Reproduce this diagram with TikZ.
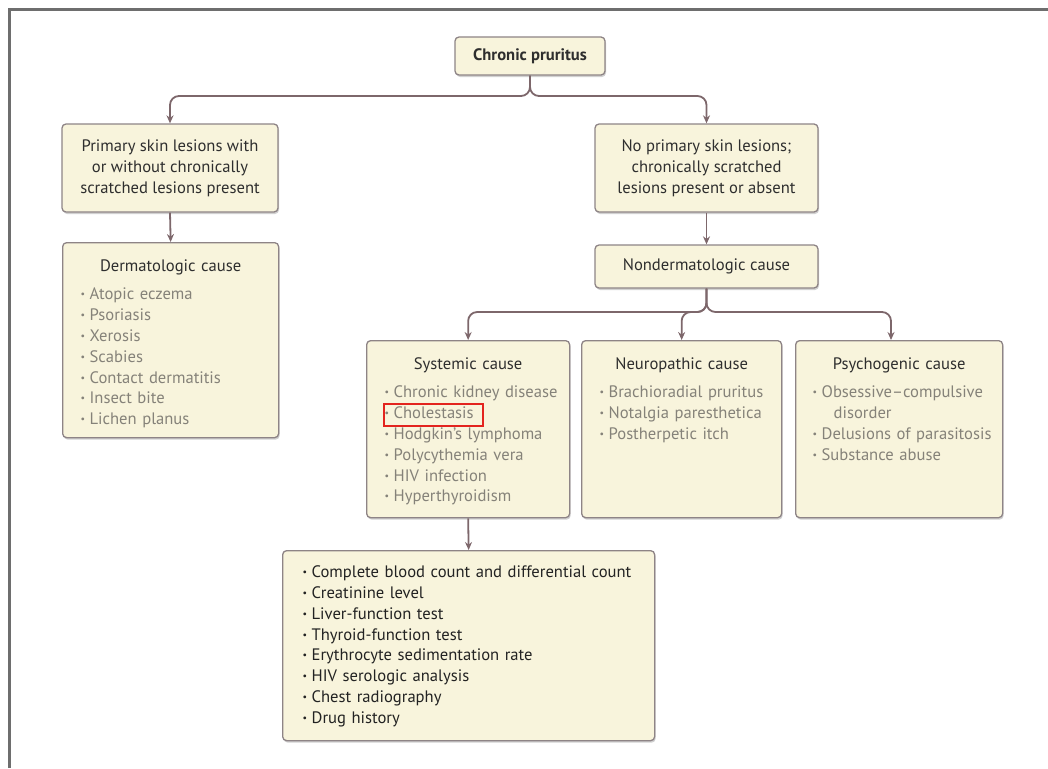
\documentclass[tikz,border=0pt]{standalone}
\usepackage{fontspec}
\usepackage{graphicx}
\setmainfont{PT Sans}
\usetikzlibrary{arrows.meta,shadows}

\definecolor{boxfill}{HTML}{F8F4DC}
\definecolor{boxline}{HTML}{8E8486}
\definecolor{connline}{HTML}{7D676B}
\definecolor{headtext}{HTML}{2E2E2E}
\definecolor{listtext}{HTML}{858279}
\definecolor{darktext}{HTML}{222222}
\definecolor{hilite}{HTML}{E3241E}
\definecolor{framegray}{HTML}{6E6E6E}

\newcommand\boxfont{\fontsize{16.6}{20.8}\selectfont}
\newcommand\bul{\makebox[9pt][l]{\raisebox{2pt}{\scalebox{0.6}{\textbullet}}}}
\newcommand\litem[1]{\mbox{\bul#1}\par}
\newcommand\ltitle[1]{{\centering\color{headtext}#1\par}\vspace{8pt}}

\tikzset{
  box/.style={draw=boxline, line width=1.3pt, fill=boxfill, rounded corners=4pt,
    drop shadow={shadow xshift=1pt, shadow yshift=-2pt, opacity=0.3, fill=black!60},
    font=\boxfont, text=headtext},
  listbox/.style n args={3}{box, anchor=north west, inner xsep=18pt, inner ysep=0pt,
    text width=#1, text height=#2, text depth=#3},
  conn/.style={draw=connline, line width=1.8pt, rounded corners=9pt,
    -{Stealth[length=8pt,width=7pt]}},
}

\begin{document}
\begin{tikzpicture}[x=1pt,y=-1pt]
      \useasboundingbox (0,0) rectangle (1048,768);
      \draw[framegray, line width=2.5pt] (9.5,768) -- (9.5,9.5) -- (1048,9.5);

      \node[box, font=\boxfont\bfseries, minimum width=150pt, minimum height=38pt] (chronic) at (530,56) {Chronic pruritus};

      \node[box, align=center, minimum width=216pt, minimum height=88pt] (primary) at (170,168)
        {Primary skin lesions with\\or without chronically\\scratched lesions present};
      \node[box, align=center, minimum width=223pt, minimum height=88pt] (noprim) at (706.5,168)
        {No primary skin lesions;\\chronically scratched\\lesions present or absent};

      \node[listbox={180pt}{28.5pt}{166.5pt}] (derm) at (62,242) {%
        \ltitle{Dermatologic cause}\color{listtext}%
        \litem{Atopic eczema}\litem{Psoriasis}\litem{Xerosis}\litem{Scabies}%
        \litem{Contact dermatitis}\litem{Insect bite}\litem{Lichen planus}};

      \node[box, minimum width=223pt, minimum height=43pt] (nonderm) at (706.5,266.5) {Nondermatologic cause};

      \node[listbox={167pt}{28.5pt}{148.5pt}] (sys) at (366,340) {%
        \ltitle{Systemic cause}\color{listtext}%
        \litem{Chronic kidney disease}\litem{Cholestasis}\litem{Hodgkin’s lymphoma}%
        \litem{Polycythemia vera}\litem{HIV infection}\litem{Hyperthyroidism}};
      \node[listbox={164pt}{28.5pt}{148.5pt}] (neuro) at (581,340) {%
        \ltitle{Neuropathic cause}\color{listtext}%
        \litem{Brachioradial pruritus}\litem{Notalgia paresthetica}\litem{Postherpetic itch}};
      \node[listbox={173pt}{28.5pt}{148.5pt}, inner xsep=17pt] (psycho) at (795,340) {%
        \ltitle{Psychogenic cause}\color{listtext}%
        \litem{Obsessive–compulsive}\hspace*{21pt}disorder\par
        \litem{Delusions of parasitosis}\litem{Substance abuse}};

      \node[listbox={332pt}{27pt}{163pt}, inner xsep=20pt, text=darktext] (tests) at (282,550) {%
        \litem{Complete blood count and differential count}\litem{Creatinine level}%
        \litem{Liver-function test}\litem{Thyroid-function test}%
        \litem{Erythrocyte sedimentation rate}\litem{HIV serologic analysis}%
        \litem{Chest radiography}\litem{Drug history}};

      \coordinate (fork1) at (530,96);
      \coordinate (fork2) at (707,312);
      \coordinate (psychotop) at (891,340);

      \draw[conn] (chronic.south) |- (fork1 -| primary.north) -- (primary.north);
      \draw[conn] (chronic.south) |- (fork1 -| noprim.north) -- (noprim.north);
      \draw[conn] (primary.south) -- (derm.north);
      \draw[conn] (noprim.south) -- (nonderm.north);

      \draw[conn] (nonderm.south) |- (fork2 -| sys.north) -- (sys.north);
      \draw[conn] (nonderm.south) |- (fork2 -| neuro.north) -- (neuro.north);
      \draw[conn] (nonderm.south) |- (fork2 -| psychotop) -- (psychotop);
      \draw[conn] (sys.south) -- (tests.north);

      \draw[hilite, line width=2pt] (384,404) rectangle (483,426);

    \end{tikzpicture}
\end{document}
